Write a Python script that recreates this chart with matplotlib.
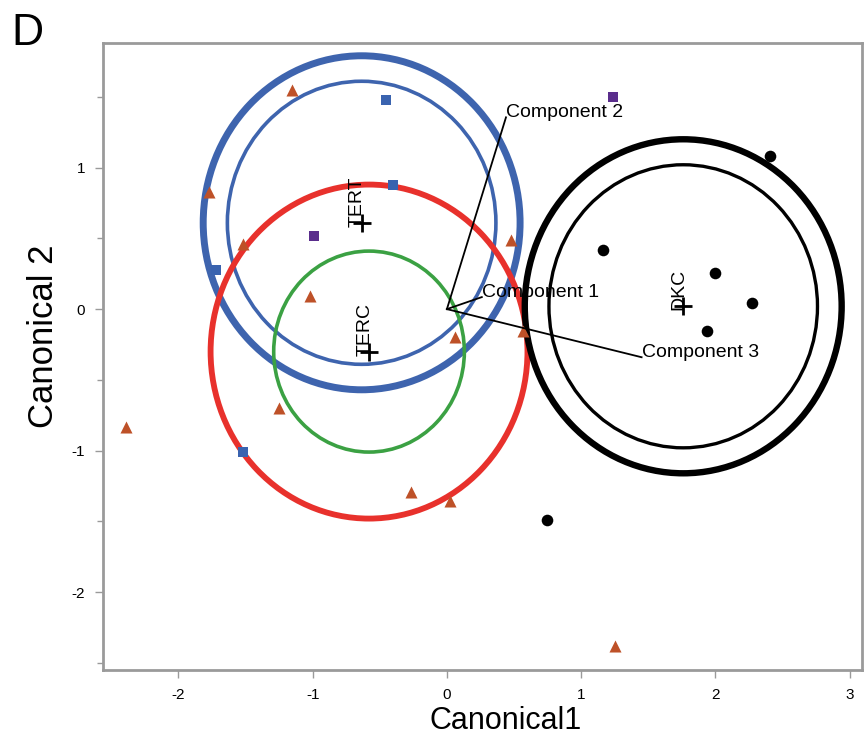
import matplotlib
matplotlib.use("Agg")
import matplotlib.pyplot as plt
from matplotlib.patches import Circle

plt.rcParams['font.family'] = ['Liberation Sans', 'DejaVu Sans']
plt.rcParams['axes.unicode_minus'] = False

# --- data ---------------------------------------------------------------
tri_x = [-1.15, -1.77, -1.52, -1.02, 0.48, 0.06, 0.565, -2.39, -1.25, -0.27, 0.02, 1.25]
tri_y = [1.55, 0.83, 0.46, 0.09, 0.49, -0.20, -0.155, -0.83, -0.70, -1.29, -1.355, -2.38]

blue_x = [-0.45, -0.40, -1.72, -1.52]
blue_y = [1.475, 0.875, 0.275, -1.01]

purple_x = [1.235, -0.99]
purple_y = [1.50, 0.515]

black_x = [2.41, 1.16, 2.00, 2.275, 1.94, 0.745]
black_y = [1.08, 0.415, 0.255, 0.04, -0.155, -1.49]

groups = ['TERT', 'TERC', 'DKC']
group_x = [-0.635, -0.58, 1.76]
group_y = [0.61, -0.30, 0.02]

# (group index, radius, colour, linewidth)
rings = [
    (0, 1.18, '#3E64AE', 5.0),
    (0, 1.00, '#3E64AE', 2.6),
    (1, 1.18, '#E8312C', 4.2),
    (1, 0.71, '#3BA143', 2.6),
    (2, 1.18, '#000000', 4.6),
    (2, 1.00, '#000000', 2.4),
]

components = ['Component 1', 'Component 2', 'Component 3']
comp_x = [0.26, 0.44, 1.45]
comp_y = [0.085, 1.355, -0.34]

fig = plt.figure(figsize=(8.67, 7.42), dpi=100)
ax = fig.add_axes([0.119, 0.097, 0.875, 0.845])

# rings round the group means
for gi, r, col, lw in rings:
    ax.add_patch(Circle((group_x[gi], group_y[gi]), r, fill=False,
                        edgecolor=col, linewidth=lw, zorder=2))

# points
ax.scatter(tri_x, tri_y, marker='^', s=75, color='#BE5128', linewidths=0, zorder=3)
ax.scatter(blue_x, blue_y, marker='s', s=55, color='#3A63AF', linewidths=0, zorder=3)
ax.scatter(purple_x, purple_y, marker='s', s=55, color='#5A2D8C', linewidths=0, zorder=3)
ax.scatter(black_x, black_y, marker='o', s=70, color='black', linewidths=0, zorder=3)

# group means
ax.scatter(group_x, group_y, marker='+', s=170, color='black', linewidths=2, zorder=4)
for name, gx, gy in zip(groups, group_x, group_y):
    ax.annotate(name, (gx, gy), xytext=(3, -3), textcoords='offset points',
                rotation=90, ha='right', va='bottom', fontsize=14, zorder=5)

# biplot rays
for name, cx, cy in zip(components, comp_x, comp_y):
    ax.plot([0, cx], [0, cy], color='black', linewidth=1.3, zorder=4)
    ax.text(cx, cy, name, ha='left', va='baseline', fontsize=14, zorder=5)

ax.set_xlim(-2.56, 3.09)
ax.set_ylim(-2.55, 1.88)

ax.set_xticks([-2, -1, 0, 1, 2, 3])
ax.set_yticks([-2, -1, 0, 1])
ax.set_yticks([-2.5, -1.5, -0.5, 0.5, 1.5], minor=True)
ax.tick_params(axis='both', which='major', color='#9A9A9A', length=6,
               width=1, labelsize=11, pad=7)
ax.tick_params(axis='y', which='minor', color='#9A9A9A', length=4, width=1)
for sp in ax.spines.values():
    sp.set_color('#9A9A9A')
    sp.set_linewidth(2)

ax.set_xlabel('Canonical1', fontsize=22)
ax.set_ylabel('Canonical 2', fontsize=25)
ax.xaxis.set_label_coords(0.53, -0.057)
ax.yaxis.set_label_coords(-0.057, 0.533)

fig.text(0.013, 0.982, 'D', fontsize=32, ha='left', va='top')

fig.savefig('out.png', dpi=100)
